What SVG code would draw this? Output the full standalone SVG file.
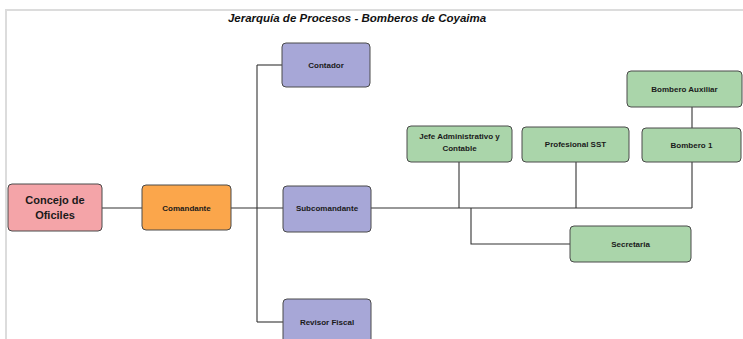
<svg xmlns="http://www.w3.org/2000/svg" width="743" height="339" viewBox="0 0 743 339">
<style>
.box{stroke:#4a4a4a;stroke-width:1}
.pink{fill:#F4A4A8}
.orange{fill:#FBA64B}
.lav{fill:#A7A7D7}
.green{fill:#AAD5AA}
.lbl{font-family:"Liberation Sans",Arial,sans-serif;font-weight:bold;font-size:8px;fill:#1a1a1a;text-anchor:middle}
.big{font-size:11px}
.conn{stroke:#333;stroke-width:1.1;fill:none}
</style>
<rect width="743" height="339" fill="#fff"/>
<path d="M6 339 V10 H743" stroke="#dcdcdc" stroke-width="2" fill="none"/>
<text x="357" y="22" font-family="Liberation Sans,Arial,sans-serif" font-weight="bold" font-style="italic" font-size="11.5" text-anchor="middle" fill="#111">Jerarquía de Procesos - Bomberos de Coyaima</text>
<g id="connectors" class="conn">
<path d="M102 208 H142"/>
<path d="M231 208 H283"/>
<path d="M257 65 V322"/>
<path d="M257 65 H282"/>
<path d="M257 322 H283"/>
<path d="M371 208 H692"/>
<path d="M459 162 V208"/>
<path d="M576 162 V208"/>
<path d="M692 162 V208"/>
<path d="M692 107 V128"/>
<path d="M471 208 V244 H570"/>
</g>
<g id="concejo"><rect class="box pink" x="8" y="184" width="94" height="47" rx="4"/><text class="lbl big" x="55" y="204">Concejo de</text><text class="lbl big" x="55" y="219">Oficiles</text></g>
<g id="comandante"><rect class="box orange" x="142" y="185" width="89" height="45" rx="4"/><text class="lbl" x="186.5" y="210.5">Comandante</text></g>
<g id="contador"><rect class="box lav" x="282" y="43" width="88" height="44" rx="4"/><text class="lbl" x="326" y="67.5">Contador</text></g>
<g id="subcomandante"><rect class="box lav" x="283" y="186" width="88" height="46" rx="4"/><text class="lbl" x="327" y="211">Subcomandante</text></g>
<g id="revisor"><rect class="box lav" x="283" y="299" width="88" height="46" rx="4"/><text class="lbl" x="327" y="324.5">Revisor Fiscal</text></g>
<g id="jefe"><rect class="box green" x="407" y="126" width="105" height="36" rx="4"/><text class="lbl" x="459.5" y="139">Jefe Administrativo y</text><text class="lbl" x="459.5" y="151">Contable</text></g>
<g id="sst"><rect class="box green" x="522" y="127" width="107" height="35" rx="4"/><text class="lbl" x="575.5" y="146.5">Profesional SST</text></g>
<g id="bombero1"><rect class="box green" x="642" y="128" width="99" height="34" rx="4"/><text class="lbl" x="691.5" y="147.5">Bombero 1</text></g>
<g id="auxiliar"><rect class="box green" x="627" y="71" width="115" height="36" rx="4"/><text class="lbl" x="684.5" y="91.5">Bombero Auxiliar</text></g>
<g id="secretaria"><rect class="box green" x="570" y="226" width="121" height="36" rx="4"/><text class="lbl" x="630.5" y="246.5">Secretaria</text></g>
</svg>
